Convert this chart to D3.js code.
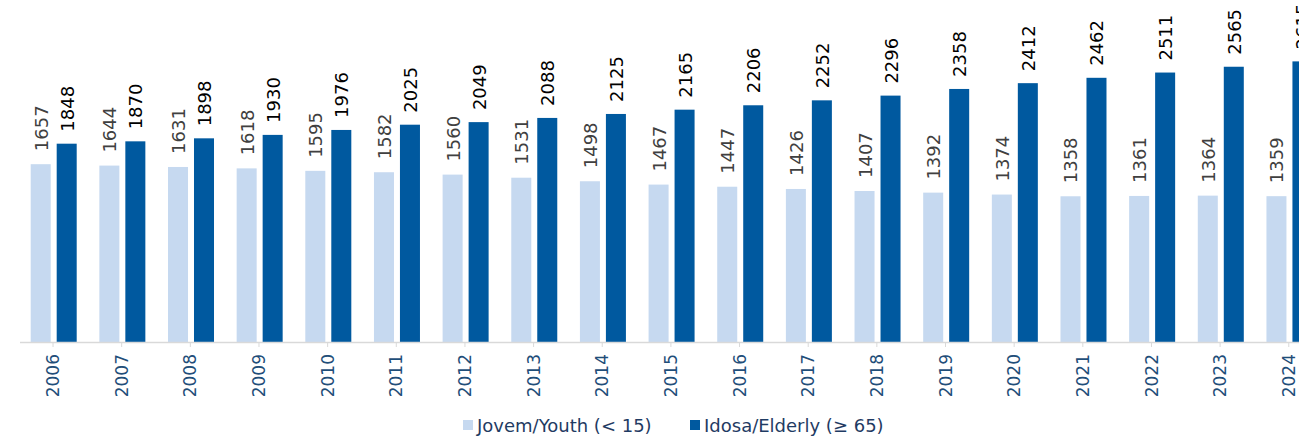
<!DOCTYPE html>
<html>
<head>
<meta charset="utf-8">
<script src="https://cdn.jsdelivr.net/npm/d3@7"></script>
<style>
  body { margin: 0; background: #fff; }
  text { font-family: "DejaVu Sans", Verdana, sans-serif; }
</style>
</head>
<body>
<div id="chart"></div>
<script>
var years = ["2006","2007","2008","2009","2010","2011","2012","2013","2014","2015",
             "2016","2017","2018","2019","2020","2021","2022","2023","2024"];
var youth = [1657,1644,1631,1618,1595,1582,1560,1531,1498,1467,1447,1426,1407,1392,1374,1358,1361,1364,1359];
var elderly = [1848,1870,1898,1930,1976,2025,2049,2088,2125,2165,2206,2252,2296,2358,2412,2462,2511,2565,2615];
var keys = ["youth", "elderly"];
var legendLabels = ["Jovem/Youth (< 15)", "Idosa/Elderly (\u2265 65)"];
var colors = ["#c6d9f0", "#00599f"];
var labelColors = ["#404040", "#000000"];

var width = 1299, height = 442;
var baseY = 342;

var svg = d3.select("#chart").append("svg")
  .attr("width", width)
  .attr("height", height);

var x = d3.scaleBand()
  .domain(years)
  .range([18.7, 1323.1])
  .padding(0);

var x1 = d3.scaleBand()
  .domain(keys)
  .range([12, 58])
  .paddingInner(0.23);

var y = d3.scaleLinear()
  .domain([0, 3187])
  .range([baseY, 0]);

var rows = years.map(function(yr, i) {
  return { year: yr, youth: youth[i], elderly: elderly[i] };
});

var groups = svg.selectAll(".grp")
  .data(rows)
  .enter().append("g")
  .attr("class", "grp")
  .attr("transform", function(d) { return "translate(" + x(d.year) + ",0)"; });

groups.selectAll("rect")
  .data(function(d) { return keys.map(function(k, j) { return { key: k, value: d[k], j: j }; }); })
  .enter().append("rect")
  .attr("x", function(d) { return x1(d.key); })
  .attr("width", x1.bandwidth())
  .attr("y", function(d) { return y(d.value); })
  .attr("height", function(d) { return baseY - y(d.value); })
  .attr("fill", function(d) { return colors[d.j]; });

groups.selectAll(".val")
  .data(function(d) { return keys.map(function(k, j) { return { key: k, value: d[k], j: j }; }); })
  .enter().append("text")
  .attr("class", "val")
  .attr("transform", function(d) {
    var cx = x1(d.key) + x1.bandwidth() / 2;
    return "translate(" + (cx + 7) + "," + (y(d.value) - (d.j === 0 ? 13 : 12)) + ") rotate(-90)";
  })
  .attr("font-size", 18)
  .attr("fill", function(d) { return labelColors[d.j]; })
  .text(function(d) { return d.value; });

// x axis
var xAxis = d3.axisBottom(x).tickSizeOuter(0).tickSize(5);
var gx = svg.append("g")
  .attr("transform", "translate(0," + baseY + ")")
  .call(xAxis);
gx.select(".domain").attr("stroke", "#d9d9d9").attr("stroke-width", 1.5)
  .attr("d", "M20,0.5H" + width);
gx.selectAll(".tick line").attr("stroke", "#d9d9d9");
gx.selectAll(".tick text")
  .attr("transform", "rotate(-90)")
  .attr("x", -12)
  .attr("y", 0)
  .attr("dy", "0.36em")
  .style("text-anchor", "end")
  .attr("font-size", 17)
  .attr("font-family", "DejaVu Sans, Verdana, sans-serif")
  .attr("fill", "#1f4e79");

// legend
var legendX = [463, 690];
var legend = svg.selectAll(".leg")
  .data(legendLabels)
  .enter().append("g")
  .attr("class", "leg")
  .attr("transform", function(d, i) { return "translate(" + legendX[i] + ",420)"; });
legend.append("rect")
  .attr("width", 10).attr("height", 10)
  .attr("fill", function(d, i) { return colors[i]; });
legend.append("text")
  .attr("x", 14)
  .attr("y", 12)
  .attr("font-size", 18)
  .attr("fill", "#1f3b63")
  .text(function(d) { return d; });
</script>
</body>
</html>
